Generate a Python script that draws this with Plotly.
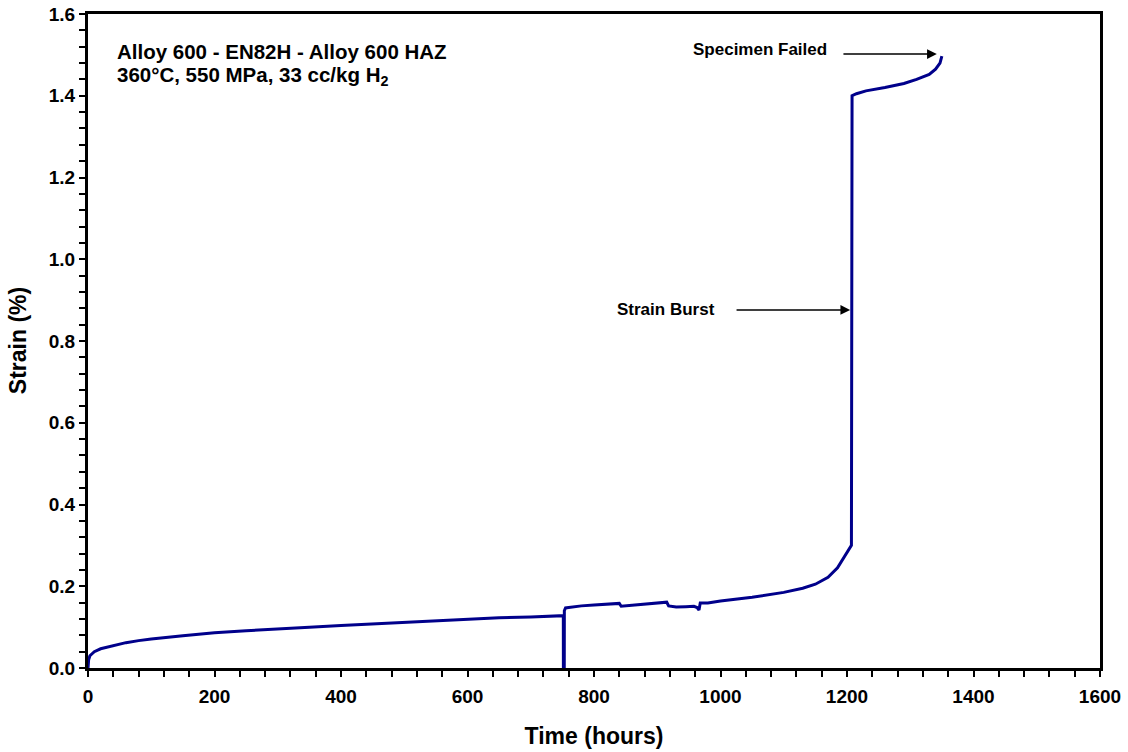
import plotly.graph_objects as go

# Creep strain history of the weld specimen
time_h = [0, 0.5, 1, 3, 6, 10, 20, 40, 60, 80, 100, 150, 200, 250, 300, 350, 400,
          450, 500, 550, 600, 650, 700, 740, 751.5, 751.6, 753.0, 753.1, 755,
          760, 780, 800, 820, 840, 843, 850, 870, 900, 915, 918, 930, 945, 958,
          963, 966, 968, 980, 1000, 1050, 1100, 1130, 1150, 1170, 1185, 1195,
          1205, 1207, 1208, 1215, 1230, 1260, 1290, 1310, 1330, 1340, 1347, 1350]
strain_pct = [0.0, 0.012, 0.02, 0.03, 0.035, 0.04, 0.047, 0.055, 0.062, 0.067, 0.071,
              0.079, 0.086, 0.091, 0.096, 0.1, 0.104, 0.108, 0.112, 0.116, 0.12,
              0.123, 0.125, 0.127, 0.128, 0.0, 0.0, 0.14, 0.147,
              0.148, 0.152, 0.154, 0.156, 0.158, 0.151, 0.152, 0.155, 0.159, 0.161,
              0.152, 0.149, 0.150, 0.151, 0.148, 0.142, 0.159, 0.159, 0.164, 0.173,
              0.185, 0.195, 0.205, 0.222, 0.245, 0.27, 0.295, 0.30, 1.40, 1.405,
              1.412, 1.42, 1.43, 1.44, 1.452, 1.465, 1.48, 1.497]

x_ticks = [0, 200, 400, 600, 800, 1000, 1200, 1400, 1600]
y_ticks = [0.0, 0.2, 0.4, 0.6, 0.8, 1.0, 1.2, 1.4, 1.6]

# Arrow callouts: (label, label_right_x, label_y, tail_x, head_x, arrow_y)
callouts = [
    ("Specimen Failed", 1172, 1.512, 1192, 1342, 1.502),
    ("Strain Burst", 994, 0.876, 1023, 1205, 0.876),
]

font_family = "Liberation Sans, Arial, sans-serif"

fig = go.Figure()
fig.add_trace(go.Scatter(
    x=time_h, y=strain_pct, mode="lines",
    line=dict(color="#00008B", width=3),
    showlegend=False, cliponaxis=False,
))

axis_common = dict(
    showgrid=False, zeroline=False, showline=True, linecolor="black",
    linewidth=3, mirror=True, ticks="outside", ticklen=6, tickwidth=2,
    tickcolor="black", automargin=False,
    tickfont=dict(family=font_family, size=19, color="black"),
)

fig.update_xaxes(
    range=[0, 1600], tickvals=x_ticks, ticktext=[f"<b>{v}</b>" for v in x_ticks],
    minor=dict(dtick=40, ticks="outside", ticklen=6, tickwidth=2, tickcolor="black"),
    ticklabelstandoff=3,
    title=dict(text="<b>Time (hours)</b>",
               font=dict(family=font_family, size=23, color="black"), standoff=23),
    **axis_common,
)
fig.update_yaxes(
    range=[0, 1.6], tickvals=y_ticks, ticktext=[f"<b>{v:.1f}</b>" for v in y_ticks],
    minor=dict(dtick=0.04, ticks="outside", ticklen=6, tickwidth=2, tickcolor="black"),
    **axis_common,
)

annotations = [
    # y-axis title, placed by hand to sit close to the page edge
    dict(x=-0.069, y=0.5, xref="paper", yref="paper", xanchor="center", yanchor="middle",
         text="<b>Strain (%)</b>", textangle=-90, showarrow=False,
         font=dict(family=font_family, size=23, color="black")),
    dict(x=0.0267, y=0.942, xref="paper", yref="paper", xanchor="left", yanchor="middle",
         text="<b>Alloy 600 - EN82H - Alloy 600 HAZ</b>", showarrow=False,
         font=dict(family=font_family, size=20.5, color="black")),
    dict(x=0.0267, y=0.905, xref="paper", yref="paper", xanchor="left", yanchor="middle",
         text="<b>360°C, 550 MPa, 33 cc/kg H<sub>2</sub></b>", showarrow=False,
         font=dict(family=font_family, size=20.5, color="black")),
]
for label, lx, ly, tail_x, head_x, ay in callouts:
    annotations.append(dict(
        x=lx, y=ly, xref="x", yref="y", xanchor="right", yanchor="middle",
        text=f"<b>{label}</b>", showarrow=False,
        font=dict(family=font_family, size=17, color="black"),
    ))
    annotations.append(dict(
        x=head_x, y=ay, ax=tail_x, ay=ay, xref="x", yref="y", axref="x", ayref="y",
        text="", showarrow=True, arrowhead=2, arrowsize=1.3, arrowwidth=1.5,
        arrowcolor="black", standoff=0,
    ))

fig.update_layout(
    width=1128, height=752,
    margin=dict(l=88, r=28, t=14, b=84),
    plot_bgcolor="white", paper_bgcolor="white",
    annotations=annotations,
)

fig.write_html("out.html")
